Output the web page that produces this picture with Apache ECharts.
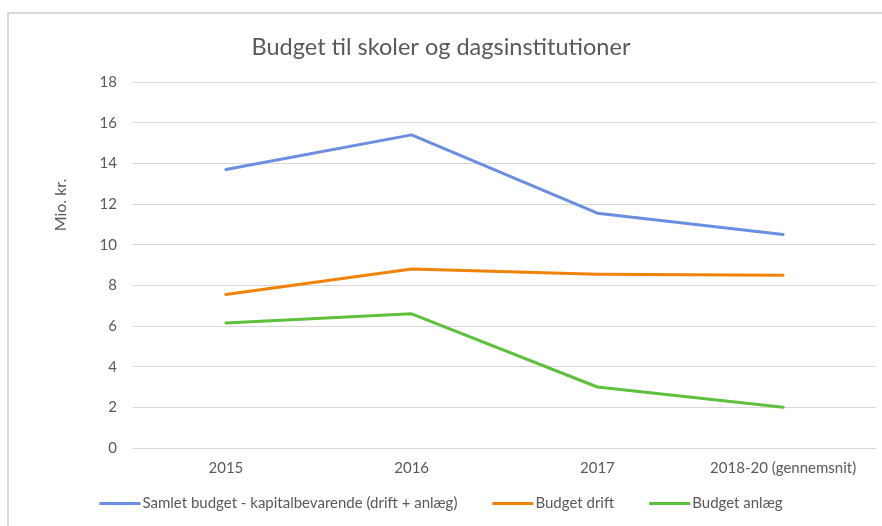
<!DOCTYPE html>
<html>
<head>
<meta charset="utf-8">
<script src="https://cdn.jsdelivr.net/npm/echarts@6/dist/echarts.min.js"></script>
<style>
html,body{margin:0;padding:0;background:#fff;}
#chart{width:882px;height:526px;}
</style>
</head>
<body>
<div id="chart"></div>
<script>
const titleText = 'Budget til skoler og dagsinstitutioner';
const yAxisName = 'Mio. kr.';
const categories = ['2015', '2016', '2017', '2018-20 (gennemsnit)'];
const seriesNames = ['Samlet budget - kapitalbevarende (drift + anlæg)', 'Budget drift', 'Budget anlæg'];
const samletValues = [13.7, 15.4, 11.55, 10.5];
const driftValues = [7.55, 8.8, 8.55, 8.5];
const anlaegValues = [6.15, 6.6, 3.0, 2.0];
const yMin = 0, yMax = 18, yStep = 2;

const FONT = 'Lato, "Liberation Sans", sans-serif';
const TXT = '#595959';
const colors = ['#6a8ee0', '#f08208', '#5ec03c'];
const values = [samletValues, driftValues, anlaegValues];

const chart = echarts.init(document.getElementById('chart'));
chart.setOption({
  animation: false,
  backgroundColor: '#fff',
  title: {
    text: titleText, left: 'center', top: 30,
    textStyle: { fontFamily: FONT, fontSize: 23.5, fontWeight: 'normal', color: TXT }
  },
  graphic: [
    { type: 'rect', shape: { x: 8, y: 13, width: 900, height: 540 }, style: { fill: 'none', stroke: '#d9d9d9', lineWidth: 2 }, silent: true },
    { type: 'text', x: 61, y: 205, rotation: Math.PI / 2,
      style: { text: yAxisName, fontFamily: FONT, fontSize: 16, fill: TXT, align: 'center', verticalAlign: 'middle' } }
  ],
  legend: {
    bottom: 10, left: 'center',
    itemWidth: 41, itemHeight: 3, itemGap: 35,
    icon: 'rect',
    textStyle: { fontFamily: FONT, fontSize: 15, color: TXT, padding: [0, 0, 0, -3] },
    data: seriesNames
  },
  grid: { left: 133, right: 6, top: 82, bottom: 78 },
  xAxis: {
    type: 'category', data: categories, boundaryGap: true,
    axisLine: { show: true, lineStyle: { color: '#d9d9d9', width: 1 } },
    axisTick: { show: false },
    axisLabel: { interval: 0, fontFamily: FONT, fontSize: 15, color: TXT, margin: 13 }
  },
  yAxis: {
    type: 'value', min: yMin, max: yMax, interval: yStep,
    axisLine: { show: false }, axisTick: { show: false },
    splitLine: { lineStyle: { color: '#d9d9d9', width: 1 } },
    axisLabel: { fontFamily: FONT, fontSize: 15, color: TXT, margin: 16 }
  },
  series: seriesNames.map((n, i) => ({
    name: n, type: 'line', data: values[i],
    symbol: 'none', showSymbol: false,
    lineStyle: { color: colors[i], width: 3, cap: 'round', join: 'round' },
    itemStyle: { color: colors[i] }
  }))
});
</script>
</body>
</html>
